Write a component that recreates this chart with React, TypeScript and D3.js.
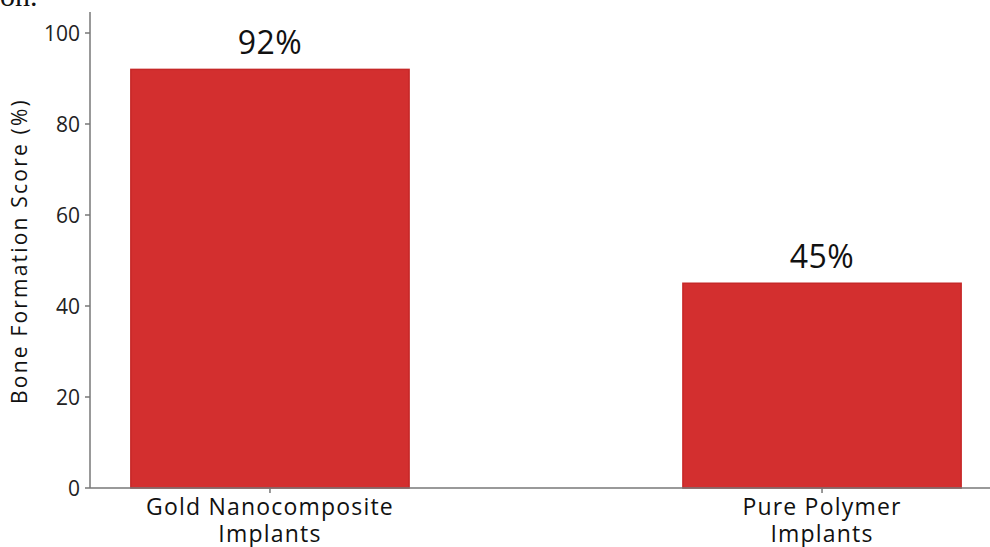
import React from "react";
import * as d3 from "d3";

const categories: string[][] = [["Gold Nanocomposite", "Implants"], ["Pure Polymer", "Implants"]];
const values: number[] = [92, 45];
const valueLabels: string[] = ["92%", "45%"];
const yTicks: number[] = [0, 20, 40, 60, 80, 100];
const yLabel = "Bone Formation Score (%)";

const W = 990;
const H = 547;
const FONT = "'Open Sans', sans-serif";

export default function App() {
  const x0 = 90;
  const y0 = 488;
  const keys = categories.map((c) => c.join(" "));
  const x = d3.scaleBand<string>().domain(keys).range([x0, 1002]).paddingInner(0.496).paddingOuter(0.074);
  const y = d3.scaleLinear().domain([0, 100]).range([y0, 33]);
  const axisColor = "#777";

  return (
    <svg width={W} height={H} style={{ position: "absolute", left: 0, top: 0, background: "#fff" }}>
      <text x={0} y={6} fontFamily="'Times New Roman', 'Liberation Serif', serif" fontSize={30} fill="#111">on.</text>
      {values.map((v, i) => (
        <g key={i}>
          <rect
            x={x(keys[i])!}
            y={y(v)}
            width={x.bandwidth()}
            height={y0 - y(v)}
            fill="#d32f2f"
            stroke="#c62828"
            strokeWidth={1.5}
          />
          <text
            x={x(keys[i])! + x.bandwidth() / 2}
            y={y(v) - 15}
            textAnchor="middle"
            fontFamily={FONT}
            fontSize={32}
            letterSpacing={0.5}
            fill="#111"
          >
            {valueLabels[i]}
          </text>
        </g>
      ))}
      {/* y axis */}
      <line x1={x0} x2={x0} y1={12} y2={y0} stroke={axisColor} strokeWidth={1.5} />
      {yTicks.map((t) => (
        <g key={t}>
          <line x1={x0 - 5} x2={x0} y1={y(t)} y2={y(t)} stroke={axisColor} strokeWidth={1.5} />
          <text x={x0 - 10} y={y(t)} dy="0.36em" textAnchor="end" fontFamily={FONT} fontSize={21} fill="#222">
            {t}
          </text>
        </g>
      ))}
      {/* x axis */}
      <line x1={x0} x2={W} y1={y0} y2={y0} stroke={axisColor} strokeWidth={1.5} />
      {keys.map((k, i) => {
        const cx = x(k)! + x.bandwidth() / 2;
        return (
          <g key={k}>
            <line x1={cx} x2={cx} y1={y0} y2={y0 + 5} stroke={axisColor} strokeWidth={1.5} />
            <text textAnchor="middle" fontFamily={FONT} fontSize={23} letterSpacing={1.2} fill="#111">
              {categories[i].map((line, j) => (
                <tspan key={j} x={cx} y={515 + j * 27}>
                  {line}
                </tspan>
              ))}
            </text>
          </g>
        );
      })}
      <text
        transform={`translate(27, 251) rotate(-90)`}
        textAnchor="middle"
        fontFamily={FONT}
        fontSize={21}
        letterSpacing={2.2}
        fill="#111"
      >
        {yLabel}
      </text>
    </svg>
  );
}
